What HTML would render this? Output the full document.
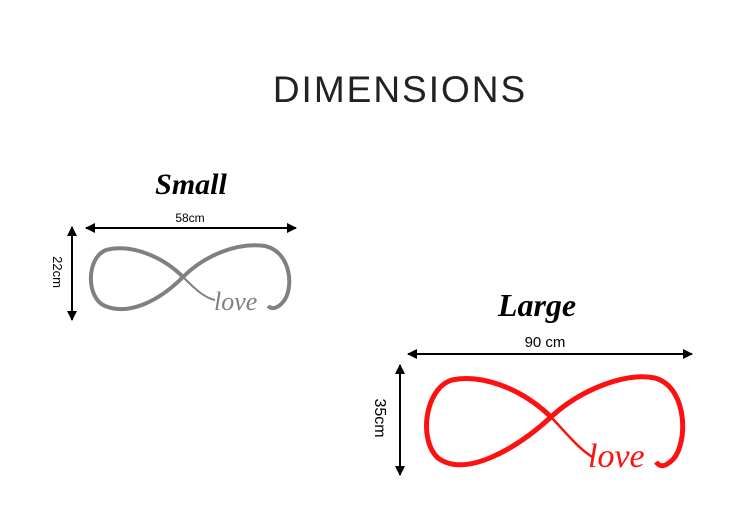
<!DOCTYPE html>
<html><head><meta charset="utf-8"><style>
html,body{margin:0;padding:0;background:#fff;}
svg{display:block}
</style></head><body>
<svg width="750" height="514" viewBox="0 0 750 514" xmlns="http://www.w3.org/2000/svg">
<defs>
<marker id="a" viewBox="0 0 10 10" refX="9" refY="5" markerWidth="5" markerHeight="5" orient="auto-start-reverse"><path d="M0,0L10,5L0,10z" fill="#000"/></marker>
</defs>
<text x="400" y="102" text-anchor="middle" font-family="Liberation Sans, sans-serif" font-size="37" fill="#222" letter-spacing="2">DIMENSIONS</text>

<text x="191" y="194" text-anchor="middle" font-family="Liberation Serif, serif" font-style="italic" font-weight="bold" font-size="30" fill="#000">Small</text>
<line x1="86" y1="228" x2="296" y2="228" stroke="#000" stroke-width="2" marker-start="url(#a)" marker-end="url(#a)"/>
<text x="190" y="222" text-anchor="middle" font-family="Liberation Sans, sans-serif" font-size="12" fill="#000">58cm</text>
<line x1="72" y1="227" x2="72" y2="320" stroke="#000" stroke-width="2" marker-start="url(#a)" marker-end="url(#a)"/>
<text transform="translate(53,272) rotate(90)" text-anchor="middle" font-family="Liberation Sans, sans-serif" font-size="13" fill="#000">22cm</text>
<path d="M183,277 C160,254 128,244 106,250 C86,258 86,298 105,306 C130,316 160,300 183,277 C205,255 238,242 265,246 C292,252 294,290 283,302 C278,308 272,310 268,306" fill="none" stroke="#808080" stroke-width="4"/>
<path d="M183,277 C196,290 205,298 215,300" fill="none" stroke="#808080" stroke-width="2"/>
<text x="214" y="310" font-family="Liberation Serif, serif" font-style="italic" font-size="26" fill="#808080">love</text>

<text x="537" y="316" text-anchor="middle" font-family="Liberation Serif, serif" font-style="italic" font-weight="bold" font-size="32" fill="#000">Large</text>
<line x1="408" y1="354" x2="692" y2="354" stroke="#000" stroke-width="2" marker-start="url(#a)" marker-end="url(#a)"/>
<text x="545" y="347" text-anchor="middle" font-family="Liberation Sans, sans-serif" font-size="15" fill="#000">90 cm</text>
<line x1="400" y1="365" x2="400" y2="475" stroke="#000" stroke-width="2" marker-start="url(#a)" marker-end="url(#a)"/>
<text transform="translate(375,418) rotate(90)" text-anchor="middle" font-family="Liberation Sans, sans-serif" font-size="16" fill="#000">35cm</text>
<path d="M551,417 C520,387 480,374 452,380 C425,388 418,440 438,458 C465,478 515,450 551,417 C580,390 625,372 655,378 C690,388 688,450 670,462 C664,467 660,467 656,462" fill="none" stroke="#ff1010" stroke-width="5"/>
<path d="M551,417 C568,435 580,450 594,458" fill="none" stroke="#ff1010" stroke-width="2.5"/>
<text x="588" y="467" font-family="Liberation Serif, serif" font-style="italic" font-size="34" fill="#ff1010">love</text>
</svg>
</body></html>
